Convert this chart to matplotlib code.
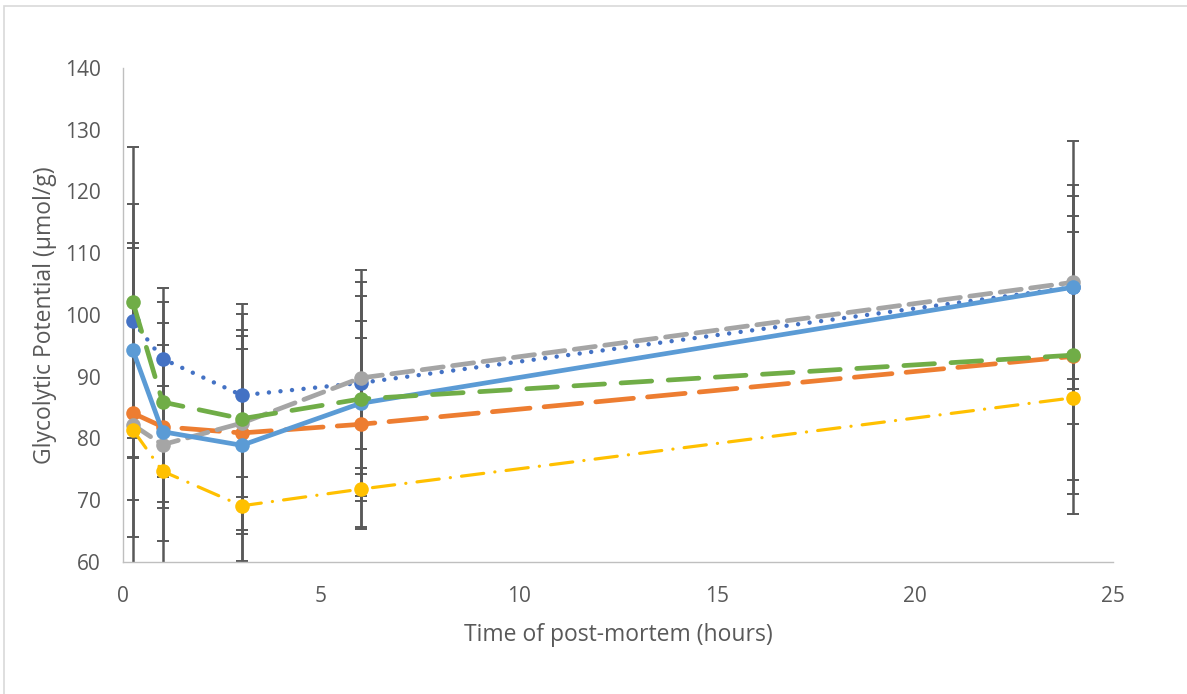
import matplotlib.pyplot as plt
from matplotlib.patches import Rectangle

# post-mortem sampling times (hours)
hours = [0.25, 1, 3, 6, 24]

# glycolytic potential per treatment (umol/g) and symmetric error bars
gp_blue = [99.0, 92.9, 87.0, 89.0, 104.5]
err_blue = [19.0, 11.5, 13.2, 18.3, 16.5]

gp_orange = [84.1, 81.9, 80.9, 82.3, 93.3]
err_orange = [26.8, 13.2, 15.7, 16.7, 20.1]

gp_gray = [82.2, 79.0, 82.5, 89.8, 105.3]
err_gray = [12.2, 19.7, 12.0, 15.5, 22.9]

gp_yellow = [81.4, 74.7, 69.1, 71.8, 86.6]
err_yellow = [17.4, 11.3, 9.5, 6.5, 18.8]

gp_light = [94.3, 81.1, 78.9, 85.7, 104.5]
err_light = [17.4, 7.4, 18.7, 10.5, 14.8]

gp_green = [102.1, 85.9, 83.2, 86.4, 93.5]
err_green = [25.1, 16.2, 18.6, 16.6, 22.5]

series = [
    (gp_blue, err_blue, "#4472C4", (0, (0.01, 2.6)), 3.2),
    (gp_orange, err_orange, "#ED7D31", (0, (8, 3)), 3.4),
    (gp_gray, err_gray, "#A5A5A5", (0, (4.5, 2)), 3.4),
    (gp_yellow, err_yellow, "#FFC000", (0, (7, 3.5, 0.05, 3.5)), 2.3),
    (gp_light, err_light, "#5B9BD5", "-", 3.4),
    (gp_green, err_green, "#70AD47", (0, (6.5, 3.5)), 3.4),
]

TEXT_COL = "#595959"
plt.rcParams["font.family"] = ["Open Sans", "DejaVu Sans"]

fig = plt.figure(figsize=(11.87, 6.94), dpi=100)
ax = fig.add_axes([123 / 1187, 1 - 562 / 694, (1113 - 123) / 1187, (562 - 68) / 694])

# chart area border
fig.patches.append(Rectangle((4 / 1187, -0.02), 1.1, 1 - 6 / 694 + 0.02,
                             transform=fig.transFigure, fill=False,
                             edgecolor="#D9D9D9", linewidth=1.2))

for y, e, col, ls, lw in series:
    ax.errorbar(hours, y, yerr=e, fmt="none", ecolor=TEXT_COL, elinewidth=1.8,
                capsize=4.3, capthick=1.4, zorder=1)
for z, (y, e, col, ls, lw) in enumerate(series):
    line, = ax.plot(hours, y, color=col, linestyle=ls, linewidth=lw,
                    marker="o", markersize=10.5, markeredgewidth=0,
                    zorder=3 + z)
    line.set_dash_capstyle("round")

ax.set_xlim(0, 25)
ax.set_ylim(60, 140)
ax.set_xticks(range(0, 26, 5))
ax.set_yticks(range(60, 141, 10))
ax.tick_params(length=0, labelsize=15, colors=TEXT_COL)
ax.tick_params(axis="y", pad=16)
ax.tick_params(axis="x", pad=17)

for side in ("top", "right"):
    ax.spines[side].set_visible(False)
for side in ("left", "bottom"):
    ax.spines[side].set_color("#BFBFBF")
    ax.spines[side].set_linewidth(1.0)

ax.set_xlabel("Time of post-mortem (hours)", fontsize=16.5, color=TEXT_COL, labelpad=12)
ax.set_ylabel("Glycolytic Potential (µmol/g)", fontsize=16.5, color=TEXT_COL, labelpad=6)

fig.savefig("out.png", dpi=100)
